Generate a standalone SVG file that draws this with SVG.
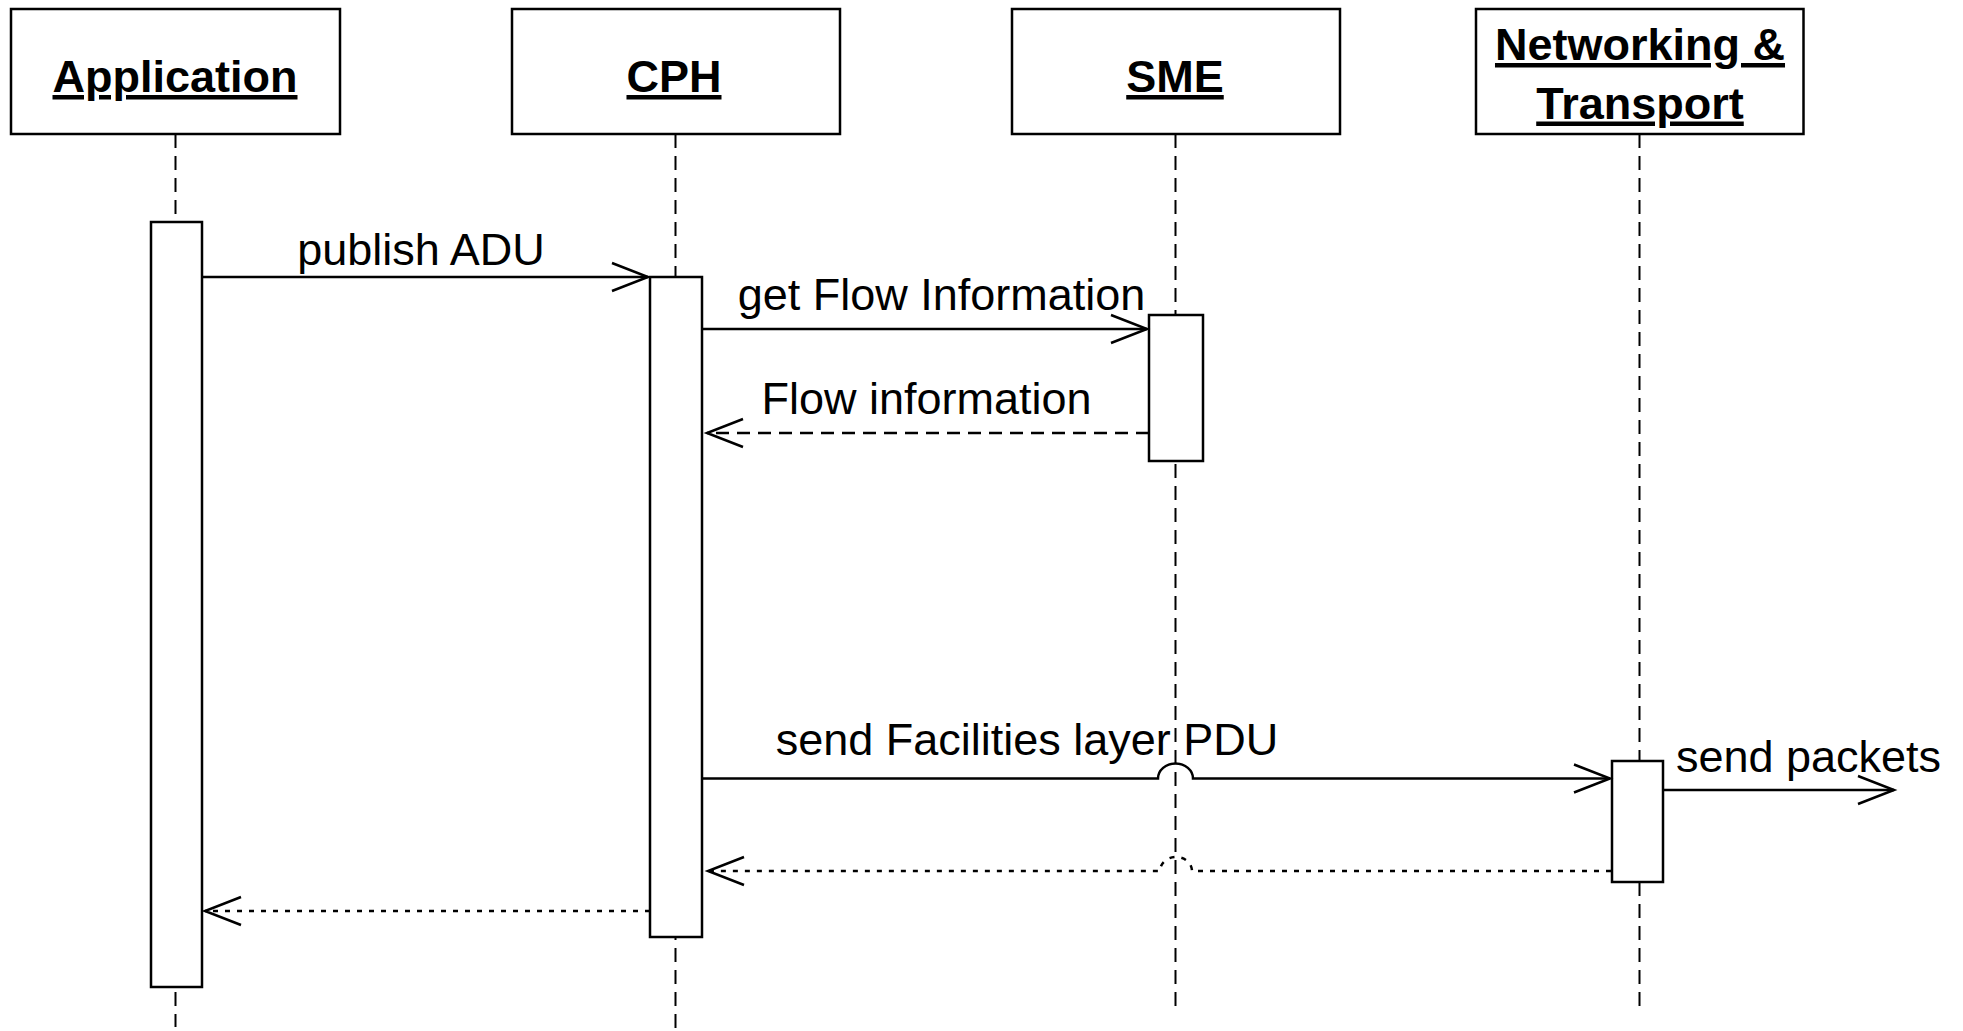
<svg xmlns="http://www.w3.org/2000/svg" width="1963" height="1031" viewBox="0 0 1963 1031">
  <style>
    .box { fill: #ffffff; stroke: #000000; stroke-width: 2.5; }
    .act { fill: #ffffff; stroke: #000000; stroke-width: 2.5; }
    .life { stroke: #000000; stroke-width: 2; stroke-dasharray: 14 8; fill: none; }
    .title { font-family: "Liberation Sans", Arial, sans-serif; font-weight: bold; font-size: 45px; text-anchor: middle; text-decoration: underline; fill: #000000; }
    .label { font-family: "Liberation Sans", Arial, sans-serif; font-size: 45px; text-anchor: middle; fill: #000000; }
    .msg { stroke: #000000; stroke-width: 2.5; fill: none; marker-end: url(#open); }
    .ret { stroke: #000000; stroke-width: 2.5; fill: none; stroke-dasharray: 13 8; marker-end: url(#open); }
    .dot { stroke: #000000; stroke-width: 2.5; fill: none; stroke-dasharray: 5 7; marker-end: url(#open); }
  </style>
  <defs>
    <marker id="open" viewBox="-40 -18 44 36" markerWidth="44" markerHeight="36" refX="0" refY="0" orient="auto" markerUnits="userSpaceOnUse">
      <path d="M -36 -14 L 0 0 L -36 14" fill="none" stroke="#000000" stroke-width="2.5"/>
    </marker>
  </defs>
  <rect width="1963" height="1031" fill="#ffffff"/>

  <g id="application">
    <line class="life" x1="175.5" y1="134" x2="175.5" y2="1027"/>
    <rect class="box" x="11" y="9" width="329" height="125"/>
    <text class="title" x="175" y="92">Application</text>
    <rect class="act" x="151" y="222" width="51" height="765"/>
  </g>

  <g id="cph">
    <line class="life" x1="675.5" y1="134" x2="675.5" y2="1031"/>
    <rect class="box" x="512" y="9" width="328" height="125"/>
    <text class="title" x="674" y="92">CPH</text>
    <rect class="act" x="650" y="277" width="52" height="660"/>
  </g>

  <g id="sme">
    <line class="life" x1="1175.5" y1="134" x2="1175.5" y2="1013"/>
    <rect class="box" x="1012" y="9" width="328" height="125"/>
    <text class="title" x="1175" y="92">SME</text>
    <rect class="act" x="1149" y="315" width="54" height="146"/>
  </g>

  <g id="networking-transport">
    <line class="life" x1="1639.5" y1="134" x2="1639.5" y2="1013"/>
    <rect class="box" x="1476" y="9" width="327.5" height="125"/>
    <text class="title" x="1640" y="60">Networking &amp;</text>
    <text class="title" x="1640" y="118.5">Transport</text>
    <rect class="act" x="1612" y="761" width="51" height="121"/>
  </g>

  <g id="connectors">
    <path class="msg" d="M 203 277 H 648"/>
    <text class="label" x="421" y="265">publish ADU</text>

    <path class="msg" d="M 702 329 H 1147"/>
    <text class="label" x="941.5" y="310">get Flow Information</text>

    <path class="ret" d="M 1149 433 H 707"/>
    <text class="label" x="926.5" y="414">Flow information</text>

    <path class="msg" d="M 702 778.5 H 1158 A 17.5 15 0 0 1 1193 778.5 H 1610"/>
    <text class="label" x="1027" y="755">send Facilities layer PDU</text>

    <path class="msg" d="M 1663 790 H 1894"/>
    <text class="label" x="1808.5" y="772">send packets</text>

    <path class="dot" d="M 1611 871 H 1192 A 16 14 0 0 0 1160 871 H 708"/>

    <path class="dot" d="M 650 911 H 205"/>
  </g>
</svg>
